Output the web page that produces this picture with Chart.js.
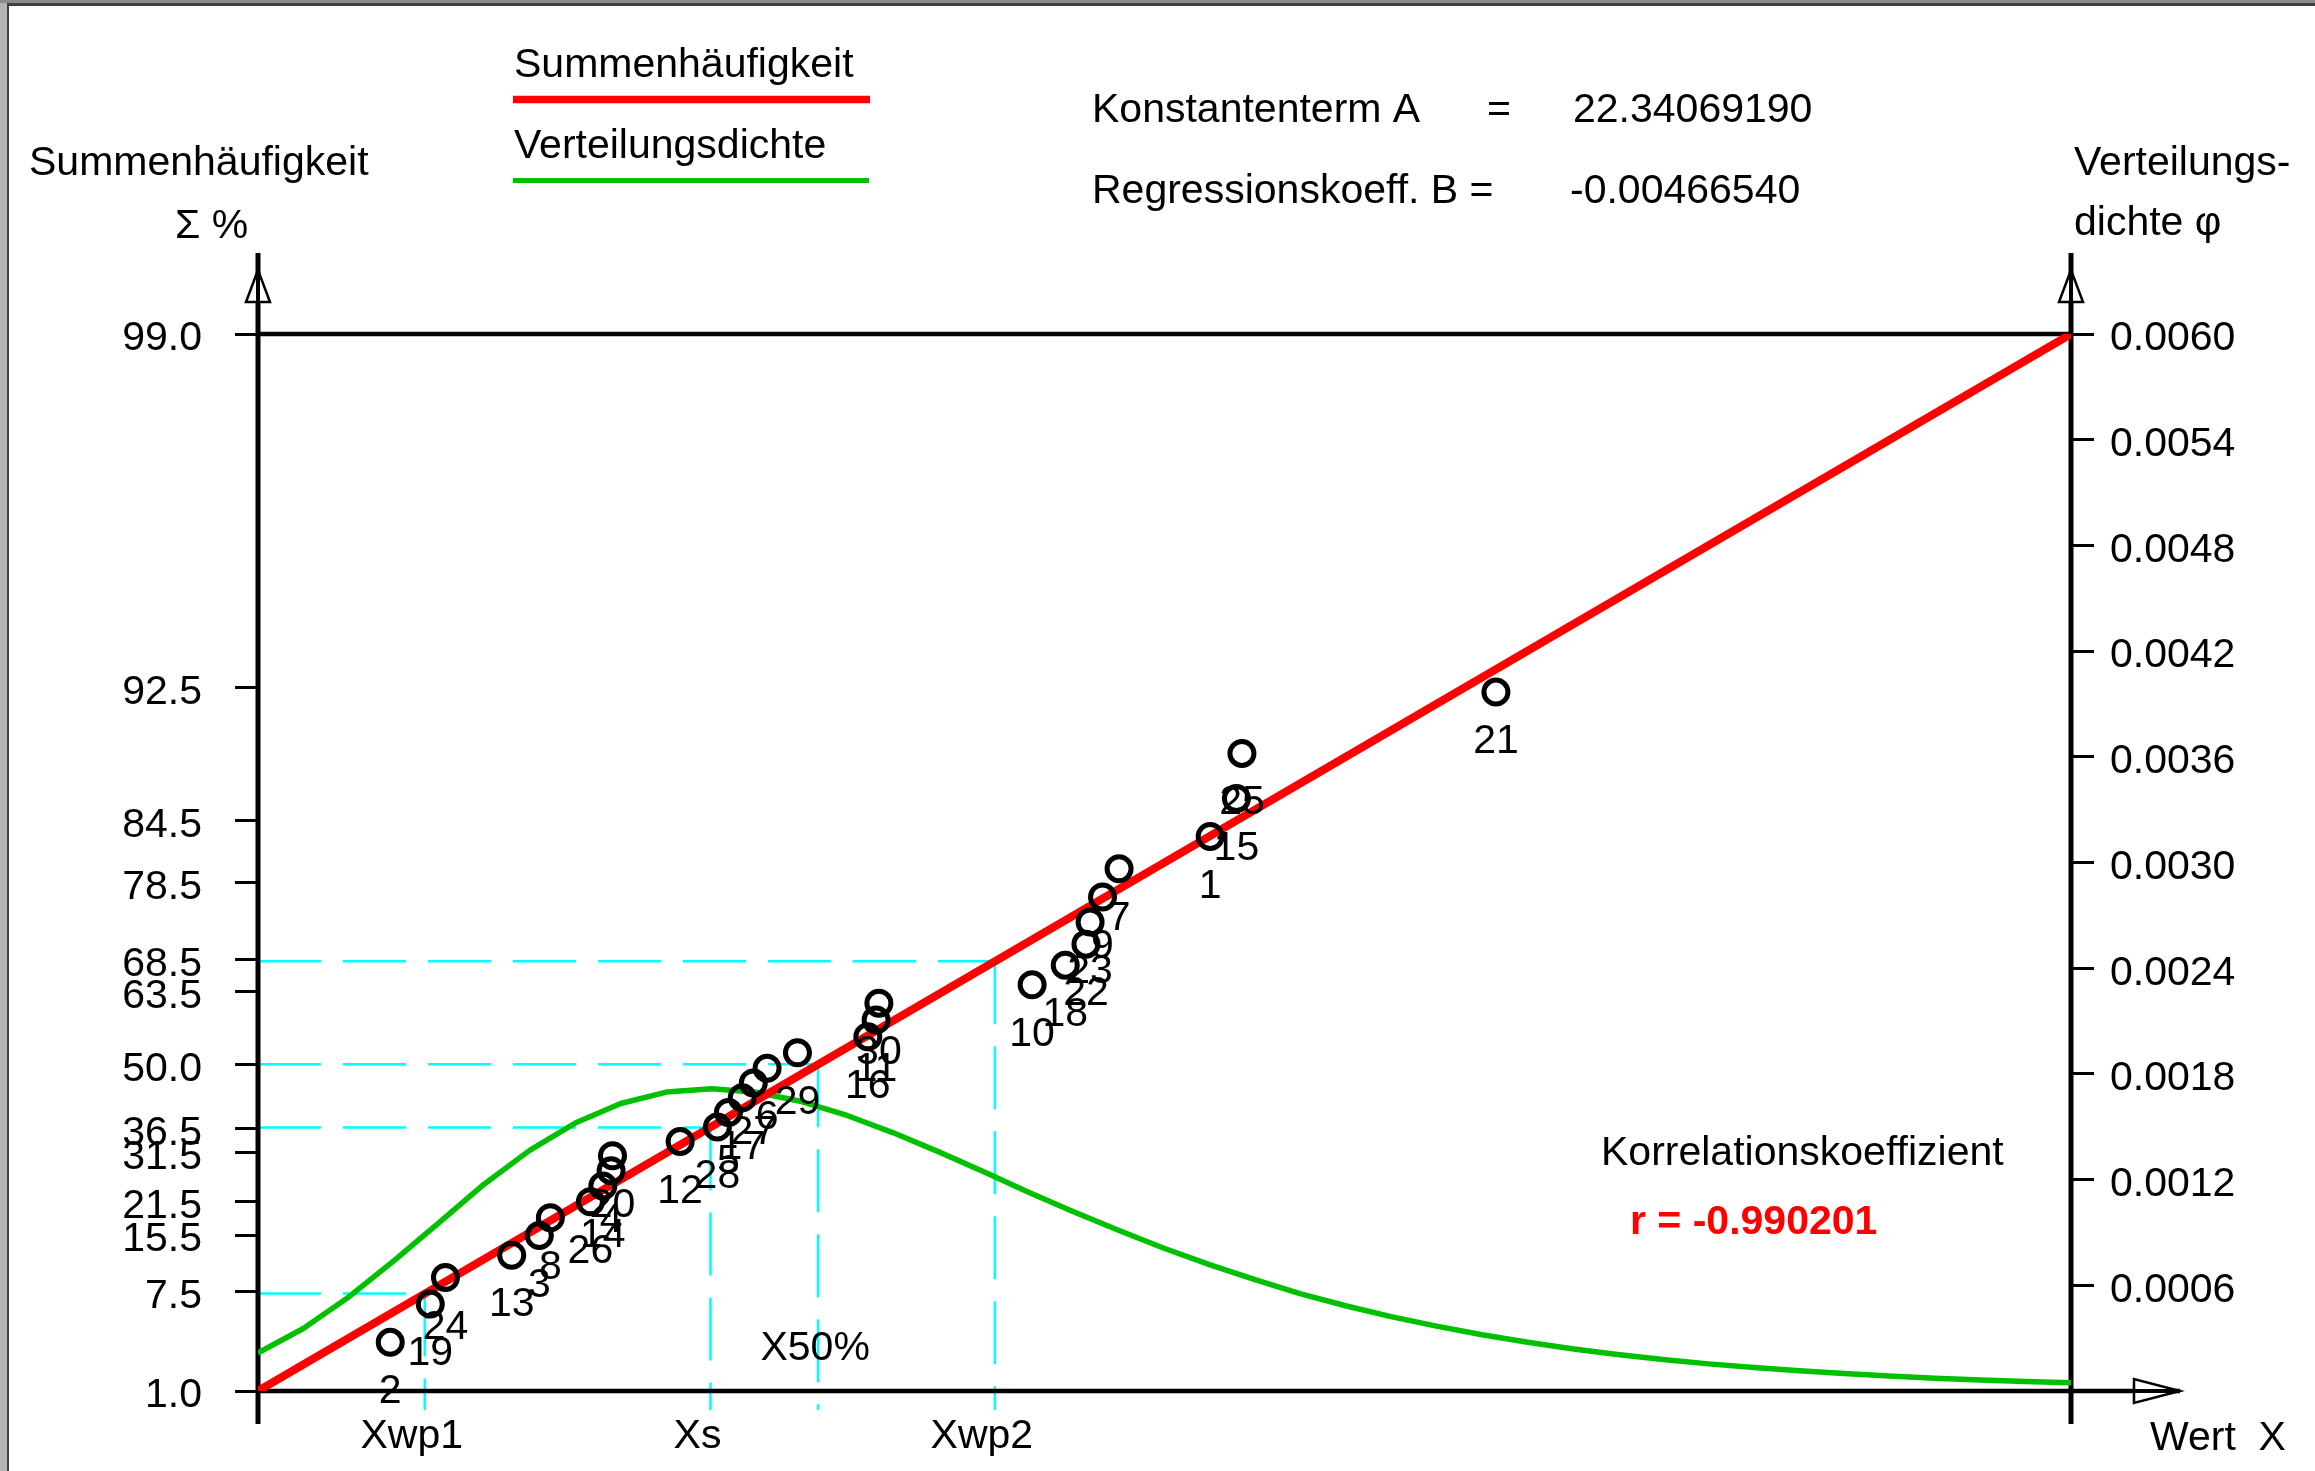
<!DOCTYPE html>
<html>
<head>
<meta charset="utf-8">
<script src="https://cdn.jsdelivr.net/npm/chart.js@4.4.1/dist/chart.umd.min.js"></script>
<style>
html,body{margin:0;padding:0;background:#fff;overflow:hidden}
canvas{display:block}
</style>
</head>
<body>
<canvas id="c" width="2315" height="1471"></canvas>
<script>
// ---------- data ----------
const seriesNames = ['Summenhäufigkeit', 'Verteilungsdichte'];
const pointLabels = [2, 19, 24, 13, 3, 8, 26, 14, 4, 20, 12, 28, 5, 17, 27, 6, 29, 16, 11, 30, 10, 18, 22, 23, 9, 7, 1, 15, 25, 21];
const pointX = [4557, 4586, 4597, 4645, 4665, 4673, 4702, 4711, 4717, 4718, 4767, 4794, 4802, 4812, 4820, 4830, 4852, 4903, 4909, 4911, 5022, 5046, 5061, 5064, 5073, 5085, 5151, 5170, 5174, 5358];
const pointPct = [3.1, 6.2, 9.2, 12.3, 15.4, 18.5, 21.5, 24.6, 27.7, 30.8, 33.8, 36.9, 40.0, 43.1, 46.2, 49.2, 52.3, 55.4, 58.5, 61.5, 64.6, 67.7, 70.8, 73.8, 76.9, 80.0, 83.1, 86.2, 89.2, 92.3];
const lineX = [4461.2, 5774.6];
const linePct = [1.0, 99.0];
const densX = [4461, 4494, 4527, 4560, 4593, 4625, 4658, 4691, 4724, 4757, 4790, 4822, 4855, 4888, 4921, 4954, 4987, 5019, 5052, 5085, 5118, 5151, 5184, 5216, 5249, 5282, 5315, 5348, 5381, 5413, 5446, 5479, 5512, 5545, 5578, 5610, 5643, 5676, 5709, 5742, 5775];
const densY = [0.000215, 0.000355, 0.000534, 0.000741, 0.000960, 0.001174, 0.001366, 0.001521, 0.001632, 0.001697, 0.001716, 0.001696, 0.001643, 0.001564, 0.001467, 0.001359, 0.001245, 0.001130, 0.001018, 0.000911, 0.000809, 0.000716, 0.000631, 0.000553, 0.000484, 0.000422, 0.000368, 0.000319, 0.000277, 0.000240, 0.000207, 0.000179, 0.000154, 0.000133, 0.000115, 0.000099, 0.000085, 0.000073, 0.000063, 0.000054, 0.000047];
const leftTicks = [1.0, 7.5, 15.5, 21.5, 31.5, 36.5, 50.0, 63.5, 68.5, 78.5, 84.5, 92.5, 99.0];
const rightTicks = [0.0006, 0.0012, 0.0018, 0.0024, 0.0030, 0.0036, 0.0042, 0.0048, 0.0054, 0.0060];
const specialNames = ['Xwp1', 'Xs', 'X50%', 'Xwp2'];
const specialX = [4582, 4789, 4867, 4995];
const specialPct = [7.3, 36.8, 50.0, 68.3];
const xRange = [4461.2, 5774.6];
const pctRange = [1.0, 99.0];
const densRange = [0, 0.0060];
const constA = '22.34069190';
const coefB = '-0.00466540';
const corrR = '-0.990201';

// ---------- Gumbel probability scale ----------
const gum = p => -Math.log(-Math.log(p / 100));
class GumbelScale extends Chart.LinearScale {
  getPixelForValue(v) {
    if (v === null || v === undefined || isNaN(v)) return NaN;
    const a = gum(this.min), b = gum(this.max);
    return this.getPixelForDecimal((gum(v) - a) / (b - a));
  }
  getValueForPixel(px) {
    const a = gum(this.min), b = gum(this.max);
    const u = a + this.getDecimalForPixel(px) * (b - a);
    return 100 * Math.exp(-Math.exp(-u));
  }
}
GumbelScale.id = 'gumbel';
GumbelScale.defaults = {};
Chart.register(GumbelScale);

const FONT = '"Liberation Sans", Arial, sans-serif';
Chart.defaults.font.family = FONT;
Chart.defaults.font.size = 41;
Chart.defaults.color = '#000';

function txt(ctx, s, x, y, opt = {}) {
  ctx.font = (opt.bold ? 'bold ' : '') + (opt.size || 41) + 'px ' + FONT;
  ctx.fillStyle = opt.color || '#000';
  ctx.textAlign = opt.align || 'left';
  ctx.textBaseline = 'alphabetic';
  ctx.fillText(s, x, y);
}
function seg(ctx, x1, y1, x2, y2) {
  ctx.beginPath(); ctx.moveTo(x1, y1); ctx.lineTo(x2, y2); ctx.stroke();
}

const decor = {
  id: 'decor',
  beforeDraw(chart) {
    const {ctx, width, height} = chart;
    ctx.save();
    ctx.fillStyle = '#fff'; ctx.fillRect(0, 0, width, height);
    ctx.fillStyle = '#b4b4b4'; ctx.fillRect(0, 0, 7, height);
    ctx.fillStyle = '#8a8a8a'; ctx.fillRect(0, 0, width, 3);
    ctx.fillStyle = '#404040'; ctx.fillRect(7, 3, 2, height); ctx.fillRect(7, 3, width, 3);
    ctx.restore();
  },
  beforeDatasetsDraw(chart) {
    const {ctx, chartArea: a, scales} = chart;
    const sx = scales.x, sl = scales.yL;
    ctx.save();
    ctx.strokeStyle = '#00ffff'; ctx.lineWidth = 2.5; ctx.setLineDash([63, 22]);
    specialX.forEach((xv, i) => {
      const px = sx.getPixelForValue(xv), py = sl.getPixelForValue(specialPct[i]);
      seg(ctx, a.left, py, px, py);
      seg(ctx, px, py, px, a.bottom + 19);
    });
    ctx.setLineDash([]);
    ctx.strokeStyle = '#000';
    ctx.lineWidth = 4.5;
    seg(ctx, a.left, a.top, a.right, a.top);
    seg(ctx, a.left, a.bottom, a.right + 109, a.bottom);
    ctx.lineWidth = 5;
    seg(ctx, a.left, a.top - 81, a.left, a.bottom + 33);
    seg(ctx, a.right, a.top - 81, a.right, a.bottom + 33);
    // arrows
    ctx.lineWidth = 2.5; ctx.fillStyle = '#fff';
    [a.left, a.right].forEach(x => {
      ctx.beginPath(); ctx.moveTo(x, a.top - 64); ctx.lineTo(x - 12, a.top - 32); ctx.lineTo(x + 12, a.top - 32); ctx.closePath();
      ctx.fill(); ctx.stroke();
      ctx.lineWidth = 4; seg(ctx, x, a.top - 81, x, a.top - 30); ctx.lineWidth = 2.5;
    });
    ctx.beginPath(); ctx.moveTo(a.right + 109, a.bottom); ctx.lineTo(a.right + 63, a.bottom - 12); ctx.lineTo(a.right + 63, a.bottom + 12); ctx.closePath();
    ctx.fill(); ctx.stroke();
    ctx.lineWidth = 4; seg(ctx, a.right + 60, a.bottom, a.right + 109, a.bottom);
    ctx.restore();
  },
  afterDatasetsDraw(chart) {
    const {ctx, chartArea: a, scales} = chart;
    ctx.save();
    // point labels
    const meta = chart.getDatasetMeta(0);
    meta.data.forEach((el, i) => txt(ctx, String(pointLabels[i]), el.x, el.y + 61, {align: 'center'}));
    // legend
    const ds = chart.data.datasets;
    txt(ctx, seriesNames[0], 514, 77);
    ctx.strokeStyle = ds[1].borderColor; ctx.lineWidth = 7.5; seg(ctx, 513, 99.5, 870, 99.5);
    txt(ctx, seriesNames[1], 514, 158);
    ctx.strokeStyle = ds[2].borderColor; ctx.lineWidth = 5; seg(ctx, 513, 180.5, 869, 180.5);
    // axis titles
    txt(ctx, 'Summenhäufigkeit', 29, 175);
    txt(ctx, 'Σ %', 175, 238);
    txt(ctx, 'Verteilungs-', a.right + 3, 175);
    txt(ctx, 'dichte φ', a.right + 3, 235);
    txt(ctx, 'Wert  X', a.right + 79, 1450);
    // regression info
    txt(ctx, 'Konstantenterm A', 1092, 122);
    txt(ctx, '=', 1487, 122);
    txt(ctx, constA, 1573, 122);
    txt(ctx, 'Regressionskoeff. B =', 1092, 203);
    txt(ctx, coefB, 1570, 203);
    txt(ctx, 'Korrelationskoeffizient', 1601, 1165);
    txt(ctx, 'r = ' + corrR, 1630, 1234, {bold: true, color: '#ff0000'});
    // X50% label above axis
    txt(ctx, specialNames[2], scales.x.getPixelForValue(specialX[2]) - 3, a.bottom - 31, {align: 'center'});
    ctx.restore();
  }
};

new Chart(document.getElementById('c'), {
  type: 'scatter',
  data: {
    datasets: [
      {
        type: 'scatter', label: 'Messwerte',
        data: pointX.map((x, i) => ({x, y: pointPct[i]})),
        xAxisID: 'x', yAxisID: 'yL',
        pointRadius: 12, pointBorderWidth: 5, pointBorderColor: '#000',
        pointBackgroundColor: 'rgba(0,0,0,0)', showLine: false, order: 0
      },
      {
        type: 'line', label: seriesNames[0],
        data: lineX.map((x, i) => ({x, y: linePct[i]})),
        xAxisID: 'x', yAxisID: 'yL',
        borderColor: '#ff0000', borderWidth: 8, pointRadius: 0, fill: false, order: 1
      },
      {
        type: 'line', label: seriesNames[1],
        data: densX.map((x, i) => ({x, y: densY[i]})),
        xAxisID: 'x', yAxisID: 'yR',
        borderColor: '#00c000', borderWidth: 5.5, pointRadius: 0, fill: false,
        tension: 0, borderJoinStyle: 'round', order: 2
      }
    ]
  },
  options: {
    responsive: false,
    animation: false,
    devicePixelRatio: 1,
    layout: {padding: {top: 334, left: 0, right: 0, bottom: 0}},
    plugins: {legend: {display: false}, tooltip: {enabled: false}},
    scales: {
      x: {
        type: 'linear', position: 'bottom', min: xRange[0], max: xRange[1], bounds: 'data',
        grid: {display: false}, border: {display: false},
        afterBuildTicks: s => { s.ticks = [0, 1, 3].map(i => ({value: specialX[i]})); },
        afterFit: s => { s.height = 80; },
        ticks: {
          autoSkip: false, maxRotation: 0, minRotation: 0, padding: 13, labelOffset: -13,
          callback: v => specialNames[specialX.indexOf(v)] || ''
        }
      },
      yL: {
        type: 'gumbel', position: 'left', min: pctRange[0], max: pctRange[1], bounds: 'data',
        grid: {display: true, drawOnChartArea: false, drawTicks: true, tickLength: 23, tickWidth: 3, tickColor: '#000', color: '#000'},
        border: {display: false},
        afterBuildTicks: s => { s.ticks = leftTicks.map(v => ({value: v})); },
        afterFit: s => { s.width = 258; },
        ticks: {autoSkip: false, padding: 33, labelOffset: 5, callback: v => Number(v).toFixed(1)}
      },
      yR: {
        type: 'linear', position: 'right', min: densRange[0], max: densRange[1], bounds: 'data',
        grid: {display: true, drawOnChartArea: false, drawTicks: true, tickLength: 23, tickWidth: 3, tickColor: '#000', color: '#000'},
        border: {display: false},
        afterBuildTicks: s => { s.ticks = rightTicks.map(v => ({value: v})); },
        afterFit: s => { s.width = 244; },
        ticks: {autoSkip: false, padding: 16, labelOffset: 5, callback: v => Number(v).toFixed(4)}
      }
    }
  },
  plugins: [decor]
});
</script>
</body>
</html>
